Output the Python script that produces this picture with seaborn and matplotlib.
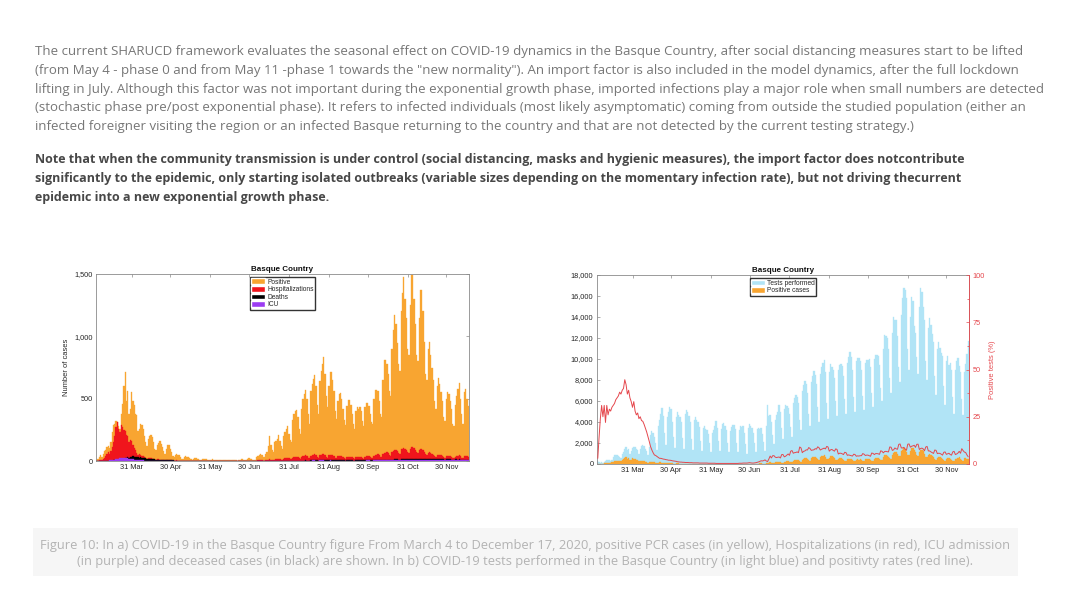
import numpy as np
import pandas as pd

import matplotlib
matplotlib.use('Agg')
import matplotlib.pyplot as plt
from matplotlib.patches import Patch, Rectangle
from matplotlib.ticker import FuncFormatter, MultipleLocator
import seaborn as sns

W, H = 1080, 604

# Daily series, 4 March to 17 December 2020 (one week per row, Wed..Tue)
dates = pd.date_range('2020-03-04', '2020-12-17', freq='D')

positive = [
    12, 20, 30, 45, 35, 60, 80,
    90, 110, 120, 105, 150, 230, 290,
    300, 320, 310, 280, 260, 380, 460,
    600, 711, 480, 560, 380, 420, 553,
    480, 451, 380, 371, 240, 260, 300,
    291, 260, 200, 150, 120, 180, 200,
    211, 190, 150, 100, 90, 130, 145,
    160, 140, 110, 80, 60, 100, 131,
    131, 100, 70, 40, 30, 50, 55,
    50, 45, 35, 20, 15, 30, 40,
    35, 30, 25, 15, 10, 20, 25,
    25, 20, 18, 10, 8, 15, 20,
    18, 15, 12, 8, 6, 12, 15,
    12, 10, 10, 6, 5, 8, 10,
    10, 12, 8, 6, 5, 8, 12,
    10, 8, 8, 5, 4, 10, 12,
    14, 18, 12, 8, 6, 20, 25,
    18, 15, 12, 10, 8, 30, 40,
    50, 60, 45, 35, 30, 55, 70,
    120, 198, 130, 90, 70, 150, 160,
    180, 210, 160, 120, 100, 200, 230,
    260, 280, 220, 170, 150, 330, 380,
    400, 409, 350, 260, 220, 420, 500,
    540, 569, 500, 380, 300, 560, 620,
    660, 690, 600, 450, 380, 640, 720,
    780, 836, 700, 520, 430, 600, 716,
    716, 650, 560, 400, 340, 480, 540,
    543, 500, 420, 330, 290, 440, 489,
    489, 450, 380, 300, 260, 400, 435,
    420, 435, 400, 320, 280, 430, 465,
    465, 440, 380, 310, 300, 500, 569,
    569, 560, 480, 380, 350, 650, 810,
    810, 780, 700, 560, 520, 900, 1050,
    1171, 1100, 950, 780, 720, 1200, 1350,
    1478, 1300, 1150, 900, 850, 1250, 1490,
    1490, 1300, 1100, 850, 800, 1150, 1371,
    1371, 1200, 957, 700, 650, 900, 957,
    850, 750, 650, 480, 420, 600, 665,
    620, 556, 480, 350, 320, 500, 556,
    540, 480, 420, 300, 280, 450, 520,
    580, 625, 500, 380, 300, 550, 580,
    500, 440,
]

hospitalizations = [
    2, 4, 6, 8, 10, 18, 25,
    40, 55, 70, 60, 80, 110, 150,
    200, 270, 312, 260, 230, 290, 270,
    250, 240, 211, 200, 150, 170, 157,
    130, 104, 90, 65, 50, 55, 50,
    42, 38, 30, 24, 20, 26, 28,
    22, 20, 16, 12, 10, 14, 14,
    12, 11, 9, 6, 5, 8, 8,
    7, 6, 5, 4, 3, 4, 5,
    4, 4, 3, 2, 2, 3, 3,
    3, 3, 2, 2, 1, 2, 3,
    2, 3, 2, 1, 1, 2, 2,
    2, 2, 2, 1, 1, 2, 2,
    2, 2, 1, 1, 1, 2, 2,
    2, 2, 2, 1, 1, 2, 2,
    2, 2, 1, 1, 1, 2, 2,
    2, 3, 2, 1, 1, 3, 3,
    3, 3, 2, 2, 2, 4, 5,
    6, 7, 6, 4, 4, 7, 8,
    10, 14, 12, 8, 7, 12, 14,
    16, 20, 17, 12, 10, 18, 22,
    25, 28, 24, 18, 15, 26, 30,
    32, 35, 30, 22, 18, 34, 38,
    40, 45, 38, 28, 22, 42, 48,
    50, 56, 46, 32, 26, 48, 52,
    54, 60, 50, 36, 28, 46, 52,
    50, 46, 40, 28, 22, 38, 42,
    40, 38, 32, 24, 20, 34, 36,
    36, 34, 30, 22, 18, 32, 34,
    34, 36, 32, 24, 20, 36, 40,
    40, 42, 36, 28, 26, 44, 50,
    52, 55, 48, 36, 32, 58, 66,
    68, 70, 62, 48, 44, 76, 84,
    90, 88, 78, 62, 58, 94, 100,
    108, 100, 90, 70, 66, 98, 110,
    112, 104, 92, 70, 64, 90, 100,
    96, 88, 74, 54, 50, 68, 72,
    64, 58, 50, 38, 34, 48, 52,
    50, 46, 40, 30, 26, 40, 44,
    42, 38, 34, 24, 22, 36, 40,
    44, 46, 38, 28, 24, 40, 42,
    38, 34,
]

deaths = [
    0, 0, 0, 0, 0, 1, 1,
    1, 2, 2, 3, 3, 4, 5,
    6, 8, 10, 12, 12, 15, 18,
    20, 24, 26, 30, 28, 32, 35,
    38, 36, 34, 32, 30, 28, 30,
    28, 26, 24, 22, 20, 20, 18,
    18, 16, 15, 14, 12, 12, 11,
    10, 10, 9, 8, 7, 8, 7,
    6, 6, 5, 5, 4, 4, 4,
    4, 3, 3, 3, 2, 2, 2,
    2, 2, 1, 1, 1, 1, 1,
    1, 1, 1, 0, 1, 1, 1,
    1, 0, 1, 0, 0, 1, 0,
    0, 1, 0, 0, 0, 0, 1,
    0, 0, 1, 0, 0, 0, 0,
    0, 0, 0, 1, 0, 0, 0,
    0, 0, 0, 0, 0, 1, 0,
    0, 0, 1, 0, 0, 0, 1,
    0, 1, 0, 1, 0, 1, 1,
    1, 1, 1, 0, 1, 1, 2,
    1, 2, 1, 1, 1, 2, 2,
    2, 2, 3, 2, 2, 3, 3,
    3, 4, 3, 3, 2, 4, 4,
    4, 5, 4, 4, 3, 5, 5,
    5, 6, 5, 5, 4, 6, 6,
    6, 7, 6, 5, 5, 6, 7,
    6, 7, 6, 5, 5, 6, 6,
    6, 6, 5, 5, 4, 6, 6,
    5, 6, 5, 4, 4, 5, 6,
    6, 6, 5, 5, 5, 6, 7,
    7, 7, 6, 6, 6, 7, 8,
    8, 9, 8, 7, 7, 9, 10,
    10, 11, 10, 9, 9, 12, 12,
    13, 14, 13, 12, 12, 14, 15,
    16, 16, 15, 15, 14, 16, 17,
    18, 18, 17, 16, 16, 17, 18,
    18, 17, 17, 16, 15, 16, 16,
    16, 15, 15, 14, 14, 15, 15,
    14, 14, 13, 13, 12, 13, 14,
    13, 13, 12, 12, 12, 13, 13,
    12, 13, 12, 11, 11, 12, 12,
    12, 11,
]

icu = [
    0, 0, 0, 1, 1, 1, 2,
    2, 3, 4, 5, 6, 8, 10,
    12, 15, 18, 20, 22, 24, 25,
    26, 25, 24, 22, 20, 18, 16,
    14, 12, 10, 9, 8, 7, 6,
    5, 5, 4, 4, 3, 3, 3,
    3, 2, 2, 2, 2, 2, 1,
    1, 1, 1, 1, 1, 1, 1,
    1, 1, 1, 0, 0, 1, 1,
    0, 1, 0, 0, 0, 1, 0,
    0, 0, 1, 0, 0, 0, 0,
    0, 0, 0, 0, 0, 1, 0,
    0, 0, 0, 0, 0, 0, 0,
    0, 0, 0, 0, 0, 0, 0,
    0, 0, 0, 0, 0, 0, 0,
    0, 0, 0, 0, 0, 0, 0,
    0, 0, 0, 0, 0, 0, 1,
    0, 1, 0, 0, 0, 1, 1,
    1, 1, 1, 0, 1, 1, 1,
    1, 2, 1, 1, 1, 2, 2,
    2, 2, 2, 1, 1, 2, 3,
    3, 3, 3, 2, 2, 3, 3,
    3, 4, 3, 3, 2, 4, 4,
    4, 4, 4, 3, 3, 4, 5,
    5, 5, 4, 4, 3, 5, 5,
    5, 5, 4, 4, 3, 4, 5,
    4, 4, 4, 3, 3, 4, 4,
    4, 4, 3, 3, 3, 4, 4,
    4, 4, 3, 3, 3, 4, 4,
    4, 4, 4, 3, 3, 4, 5,
    5, 5, 4, 4, 4, 5, 6,
    6, 6, 6, 5, 5, 7, 7,
    8, 8, 7, 6, 6, 8, 9,
    9, 10, 9, 8, 8, 10, 10,
    11, 11, 10, 9, 9, 11, 11,
    12, 11, 11, 10, 9, 10, 11,
    10, 10, 9, 8, 8, 9, 9,
    8, 8, 8, 7, 7, 8, 8,
    7, 7, 7, 6, 6, 7, 7,
    7, 7, 6, 6, 6, 7, 7,
    7, 7, 6, 6, 6, 7, 7,
    6, 6,
]

tests = [
    300, 150, 120, 180, 120, 200, 320,
    350, 380, 400, 330, 420, 650, 850,
    820, 850, 800, 650, 600, 950, 1100,
    1450, 1600, 1300, 1450, 1000, 1250, 1550,
    1650, 1600, 1450, 1300, 950, 1400, 1700,
    1850, 1750, 1400, 1200, 900, 1600, 2800,
    3100, 3000, 2600, 2000, 1300, 3600, 4200,
    4800, 5300, 4600, 3000, 1800, 4500, 5000,
    5460, 5200, 4000, 2600, 1500, 4500, 5000,
    4700, 4500, 4000, 2500, 1400, 4800, 5170,
    5000, 4600, 3980, 2400, 1300, 4200, 4500,
    4200, 4000, 3500, 2200, 1200, 3400, 3600,
    3330, 3200, 2900, 2000, 1100, 3000, 3200,
    3600, 4100, 3400, 2200, 1200, 3300, 3800,
    3900, 3600, 3200, 2000, 1100, 3100, 3500,
    3700, 3750, 3300, 2000, 1100, 3200, 3600,
    3500, 3600, 3000, 1900, 1000, 3400, 3800,
    3600, 3400, 3000, 2000, 1100, 3300, 3430,
    3300, 3400, 2900, 2100, 1200, 3600, 5650,
    4600, 4700, 4000, 2800, 1900, 4200, 4700,
    5000, 5650, 5000, 3400, 2400, 5200, 5600,
    5500, 5300, 4800, 3500, 2600, 5800, 6300,
    6600, 6400, 5800, 4200, 3200, 7000, 7500,
    7870, 7600, 6800, 4800, 3600, 7800, 8400,
    8820, 8500, 7600, 5400, 4000, 8600, 9200,
    9600, 9900, 8800, 5800, 4300, 8800, 9500,
    9270, 9000, 8200, 6000, 4600, 9000, 9400,
    9500, 9300, 8400, 6200, 4800, 9600, 10200,
    10690, 10200, 9000, 6400, 5000, 9800, 10100,
    10060, 9800, 9000, 6500, 5100, 9600, 9900,
    9900, 10000, 9200, 6800, 5400, 10000, 10380,
    10400, 10300, 9400, 7200, 6000, 11000, 12280,
    12160, 12000, 11000, 8200, 6800, 12500, 14020,
    13740, 13700, 12200, 9200, 7800, 14200, 15800,
    16720, 16600, 15800, 11000, 9000, 14000, 15930,
    15500, 13100, 12500, 10200, 8600, 15000, 16760,
    16400, 15000, 13740, 9800, 8000, 13000, 13860,
    13200, 12400, 11600, 8400, 6600, 11000, 11600,
    11010, 10600, 10300, 7400, 5650, 9800, 10300,
    9420, 9600, 9000, 6400, 4800, 9000, 9800,
    10060, 9370, 8800, 6200, 4700, 8790, 9500,
    10500, 11700,
]

positivity = [
    3, 14, 24, 31, 25, 31, 22,
    31, 26, 29, 28, 30, 31, 32,
    34, 35, 36, 38, 37, 39, 40,
    44.6, 42, 37, 39, 35, 33, 30,
    33, 28, 26, 27, 24, 25, 23,
    22.6, 21, 19, 17, 14.6, 12, 9.3,
    7.5, 6, 4.8, 4.5, 4, 3.5, 3,
    3, 2.8, 2.6, 2.5, 2.3, 2.2, 2,
    2, 1.9, 1.7, 1.6, 1.5, 1.4, 1.2,
    1.1, 1, 1, 0.9, 0.9, 0.8, 0.8,
    0.8, 0.7, 0.7, 0.7, 0.6, 0.6, 0.6,
    0.6, 0.6, 0.5, 0.5, 0.5, 0.5, 0.5,
    0.5, 0.5, 0.4, 0.4, 0.4, 0.4, 0.4,
    0.4, 0.3, 0.3, 0.3, 0.3, 0.3, 0.3,
    0.3, 0.3, 0.3, 0.3, 0.3, 0.3, 0.3,
    0.3, 0.3, 0.3, 0.3, 0.3, 0.4, 0.4,
    0.4, 0.5, 0.5, 0.5, 0.5, 0.6, 0.7,
    0.6, 0.5, 0.5, 0.6, 0.7, 0.9, 1.1,
    1.4, 1.7, 1.6, 1.8, 2.2, 1.6, 1.3,
    2.6, 4.2, 3.2, 4.4, 4.4, 3.6, 3.4,
    3.6, 3.7, 3.2, 5.0, 5.0, 3.8, 4.1,
    4.7, 5.3, 4.6, 6.8, 7.1, 5.7, 6.0,
    6.1, 6.4, 6.0, 9.0, 8.5, 6.0, 6.7,
    6.9, 7.5, 7.4, 8.7, 8.2, 7.2, 7.4,
    7.5, 8.1, 7.9, 9.1, 8.6, 7.4, 7.8,
    8.1, 8.4, 8.0, 9.3, 9.0, 6.8, 7.5,
    7.7, 7.2, 6.8, 8.0, 7.7, 5.3, 5.7,
    5.7, 5.4, 5.0, 6.2, 6.0, 4.6, 4.8,
    4.6, 4.4, 4.2, 5.2, 5.0, 4.1, 4.3,
    4.2, 4.4, 4.4, 5.5, 5.2, 4.5, 4.7,
    4.7, 4.4, 4.1, 5.8, 5.6, 5.0, 5.5,
    5.5, 5.4, 5.1, 7.0, 6.7, 5.9, 6.6,
    6.7, 6.5, 6.4, 9.0, 8.9, 7.2, 7.5,
    8.5, 8.0, 7.8, 10.4, 10.6, 8.5, 8.5,
    8.8, 7.8, 7.3, 10.5, 10.6, 8.9, 9.4,
    9.6, 9.9, 8.8, 10.4, 10.5, 7.7, 8.2,
    8.4, 8.0, 7.0, 9.0, 9.3, 6.9, 6.9,
    6.4, 6.0, 5.6, 7.4, 7.2, 5.5, 5.7,
    5.6, 5.2, 4.7, 6.2, 6.4, 5.1, 5.4,
    5.7, 5.0, 4.7, 6.4, 6.7, 5.0, 5.3,
    5.8, 6.7, 5.7, 8.1, 7.1, 6.3, 6.1,
    4.8, 3.8,
]

tick_dates = ['2020-03-31', '2020-04-30', '2020-05-31', '2020-06-30', '2020-07-31',
              '2020-08-31', '2020-09-30', '2020-10-31', '2020-11-30']
tick_labels = ['31 Mar', '30 Apr', '31 May', '30 Jun', '31 Jul',
               '31 Aug', '30 Sep', '31 Oct', '30 Nov']

paragraph = [
    'The current SHARUCD framework evaluates the seasonal effect on COVID-19 dynamics in the Basque Country, after social distancing measures start to be lifted',
    '(from May 4 - phase 0 and from May 11 -phase 1 towards the "new normality"). An import factor is also included in the model dynamics, after the full lockdown',
    'lifting in July. Although this factor was not important during the exponential growth phase, imported infections play a major role when small numbers are detected',
    '(stochastic phase pre/post exponential phase). It refers to infected individuals (most likely asymptomatic) coming from outside the studied population (either an',
    'infected foreigner visiting the region or an infected Basque returning to the country and that are not detected by the current testing strategy.)',
]
note = [
    'Note that when the community transmission is under control (social distancing, masks and hygienic measures), the import factor does notcontribute',
    'significantly to the epidemic, only starting isolated outbreaks (variable sizes depending on the momentary infection rate), but not driving thecurrent',
    'epidemic into a new exponential growth phase.',
]
caption = [
    'Figure 10: In a) COVID-19 in the Basque Country figure From March 4 to December 17, 2020, positive PCR cases (in yellow), Hospitalizations (in red), ICU admission',
    '(in purple) and deceased cases (in black) are shown. In b) COVID-19 tests performed in the Basque Country (in light blue) and positivty rates (red line).',
]

for s in (positive, hospitalizations, deaths, icu, tests, positivity):
    assert len(s) == len(dates)

days = np.arange(len(dates))
tick_pos = [dates.get_loc(pd.Timestamp(d)) for d in tick_dates]

sns.set_theme(style='white')
plt.rcParams['font.family'] = ['Liberation Sans', 'DejaVu Sans']

C_POS = '#f8a531'
C_HOSP = '#f0151c'
C_DEATH = '#000000'
C_ICU = '#9b3bf2'
C_TEST = '#b1e4f6'
C_LINE = '#e5474d'
AX_GREY = '#8a8a8a'
TXT = '#262626'
WEB_FONT = 'Open Sans'


def px_rect(left, top, right, bottom):
    return [left / W, 1 - bottom / H, (right - left) / W, (bottom - top) / H]


def thousands(v, p):
    return f'{int(round(v)):,}'


def style_axes(ax):
    for sp in ax.spines.values():
        sp.set_color(AX_GREY)
        sp.set_linewidth(0.6)
    ax.tick_params(axis='both', direction='in', length=2.5, width=0.5, color=AX_GREY,
                   labelsize=5.3, labelcolor=TXT, pad=2.5)
    ax.set_xticks(tick_pos)
    ax.set_xticklabels(tick_labels)
    ax.set_xlim(-0.6, len(dates) - 0.4)
    ax.set_xlabel('')


def bars(ax, values, color):
    # thin same-colour edge closes the anti-aliasing seams between daily bars
    sns.barplot(x=days, y=values, ax=ax, color=color, saturation=1, width=1.0,
                native_scale=True, errorbar=None, linewidth=0.25, edgecolor=color)


def text_block(lines, x, y0, step, width_px, **kw):
    # fit the first line of the block to the measured width in the screenshot
    size = 9.0
    probe = fig.text(0, 0, lines[0], family=WEB_FONT, fontsize=size, **kw)
    w = probe.get_window_extent(renderer).width
    probe.remove()
    size = size * width_px / w
    y = y0
    for line in lines:
        fig.text(x / W, 1 - y / H, line, family=WEB_FONT, fontsize=size, va='center', **kw)
        y += step


fig = plt.figure(figsize=(W / 100, H / 100), dpi=100)
fig.patch.set_facecolor('white')
renderer = fig.canvas.get_renderer()

# Web page text
text_block(paragraph, 35, 52, 18.6, 993, color='#767676')
text_block(note, 35, 160, 18.6, 930, color='#474747', weight='bold')

# Panel a)
ax1 = fig.add_axes(px_rect(96, 274, 469, 461))
bars(ax1, positive, C_POS)
bars(ax1, hospitalizations, C_HOSP)
bars(ax1, deaths, C_DEATH)
bars(ax1, icu, C_ICU)
style_axes(ax1)
ax1.tick_params(top=True, right=True, labeltop=False, labelright=False)
ax1.set_ylim(0, 1500)
ax1.set_yticks([0, 500, 1000, 1500])
ax1.yaxis.set_major_formatter(FuncFormatter(thousands))
ax1.set_ylabel('Number of cases', fontsize=5.4, color=TXT, labelpad=3)
ax1.set_title('Basque Country', fontsize=5.8, weight='bold', color='#111111', pad=2)
ax1.legend(handles=[Patch(facecolor=C_POS, label='Positive'),
                    Patch(facecolor=C_HOSP, label='Hospitalizations'),
                    Patch(facecolor=C_DEATH, label='Deaths'),
                    Patch(facecolor=C_ICU, label='ICU')],
           loc='upper center', bbox_to_anchor=(0.5, 0.985), borderaxespad=0,
           fontsize=4.8, frameon=True, fancybox=False, edgecolor='#333333', framealpha=1,
           borderpad=0.25, labelspacing=0.08, handlelength=2.0, handleheight=0.9,
           handletextpad=0.35)

# Panel b)
ax2 = fig.add_axes(px_rect(597, 275, 969, 464))
bars(ax2, tests, C_TEST)
bars(ax2, positive, C_POS)
style_axes(ax2)
ax2.tick_params(top=True, right=False, labeltop=False)
ax2.set_ylim(0, 18000)
ax2.set_yticks(np.arange(0, 18001, 2000))
ax2.yaxis.set_major_formatter(FuncFormatter(thousands))
ax2.set_ylabel('')
ax2.set_title('Basque Country', fontsize=5.8, weight='bold', color='#111111', pad=2)

axr = ax2.twinx()
sns.lineplot(x=days, y=positivity, ax=axr, color=C_LINE, linewidth=0.7)
axr.set_ylim(0, 100)
axr.set_yticks([0, 25, 50, 75, 100])
axr.yaxis.set_minor_locator(MultipleLocator(12.5))
axr.set_xlim(ax2.get_xlim())
for name, sp in axr.spines.items():
    sp.set_visible(name == 'right')
axr.spines['right'].set_color(C_LINE)
axr.spines['right'].set_linewidth(0.6)
axr.tick_params(axis='y', which='both', direction='in', color=C_LINE, labelcolor=C_LINE,
                labelsize=5.3, width=0.5, pad=2.5)
axr.tick_params(axis='y', which='major', length=2.5)
axr.tick_params(axis='y', which='minor', length=1.5)
axr.set_ylabel('Positive tests (%)', fontsize=5.4, color=C_LINE, labelpad=3)
axr.set_xlabel('')
axr.legend(handles=[Patch(facecolor=C_TEST, label='Tests performed'),
                    Patch(facecolor=C_POS, label='Positive cases')],
           loc='upper center', bbox_to_anchor=(0.5, 0.985), borderaxespad=0,
           fontsize=4.8, frameon=True, fancybox=False, edgecolor='#333333', framealpha=1,
           borderpad=0.25, labelspacing=0.08, handlelength=2.0, handleheight=0.9,
           handletextpad=0.35)

# Caption box
fig.add_artist(Rectangle((33 / W, 1 - 576 / H), (1018 - 33) / W, 48 / H,
                         transform=fig.transFigure, facecolor='#f6f6f6', edgecolor='none', zorder=0))
text_block(caption, 525, 545, 16.5, 970, color='#b3b3b3', ha='center')

fig.savefig('out.png', dpi=100)
